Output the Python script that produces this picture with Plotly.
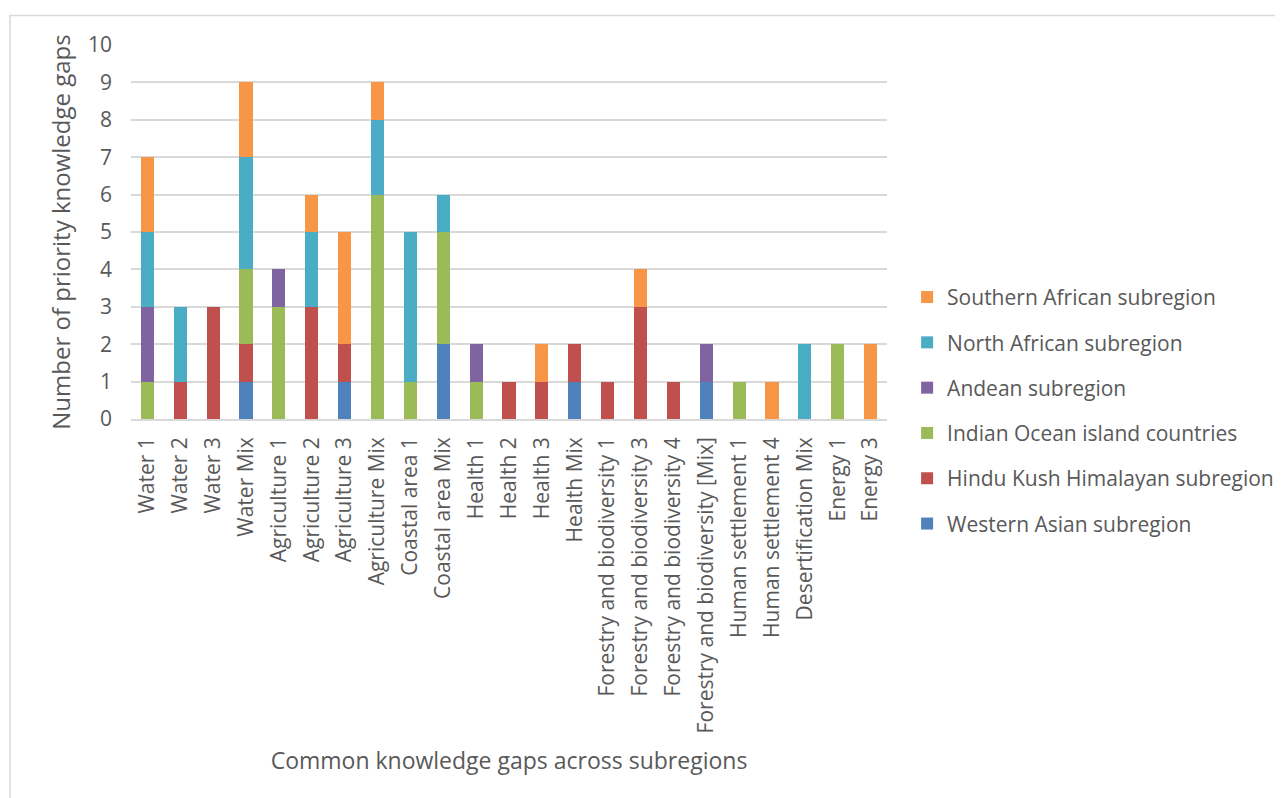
import plotly.graph_objects as go

categories = ["Water 1", "Water 2", "Water 3", "Water Mix", "Agriculture 1", "Agriculture 2",
              "Agriculture 3", "Agriculture Mix", "Coastal area 1", "Coastal area Mix",
              "Health 1", "Health 2", "Health 3", "Health Mix",
              "Forestry and biodiversity 1", "Forestry and biodiversity 3",
              "Forestry and biodiversity 4", "Forestry and biodiversity [Mix]",
              "Human settlement 1", "Human settlement 4", "Desertification Mix",
              "Energy 1", "Energy 3"]

western_asian = [0, 0, 0, 1, 0, 0, 1, 0, 0, 2, 0, 0, 0, 1, 0, 0, 0, 1, 0, 0, 0, 0, 0]
hindu_kush    = [0, 1, 3, 1, 0, 3, 1, 0, 0, 0, 0, 1, 1, 1, 1, 3, 1, 0, 0, 0, 0, 0, 0]
indian_ocean  = [1, 0, 0, 2, 3, 0, 0, 6, 1, 3, 1, 0, 0, 0, 0, 0, 0, 0, 1, 0, 0, 2, 0]
andean        = [2, 0, 0, 0, 1, 0, 0, 0, 0, 0, 1, 0, 0, 0, 0, 0, 0, 1, 0, 0, 0, 0, 0]
north_african = [2, 2, 0, 3, 0, 2, 0, 2, 4, 1, 0, 0, 0, 0, 0, 0, 0, 0, 0, 0, 2, 0, 0]
southern_afr  = [2, 0, 0, 2, 0, 1, 3, 1, 0, 0, 0, 0, 1, 0, 0, 1, 0, 0, 0, 1, 0, 0, 2]

series = [
    ("Western Asian subregion", western_asian, "#4F81BD"),
    ("Hindu Kush Himalayan subregion", hindu_kush, "#C0504D"),
    ("Indian Ocean island countries", indian_ocean, "#9BBB59"),
    ("Andean subregion", andean, "#8064A2"),
    ("North African subregion", north_african, "#4BACC6"),
    ("Southern African subregion", southern_afr, "#F79646"),
]

FONT = "Open Sans"
GRAY = "#595959"

fig = go.Figure()
n = len(series)
for i, (name, vals, col) in enumerate(series):
    fig.add_trace(go.Bar(
        x=categories, y=vals, name=name, legendgroup=name,
        legendrank=n - i,
        marker=dict(color=col, line=dict(width=0)),
    ))

fig.update_layout(
    barmode="stack",
    bargap=0.6,
    width=1275, height=790,
    margin=dict(l=123, r=396, t=37, b=379, autoexpand=False),
    paper_bgcolor="white", plot_bgcolor="white",
    font=dict(family=FONT, color=GRAY, size=21),
    showlegend=True,
    legend=dict(
        traceorder="grouped", tracegroupgap=15,
        x=1.0266, xanchor="left", y=0.023, yanchor="middle",
        font=dict(family=FONT, size=21, color=GRAY),
        itemwidth=30,
    ),
    xaxis=dict(
        tickangle=-90, tickfont=dict(size=21, color=GRAY),
        showgrid=False, showline=True, linecolor="#d9d9d9", linewidth=1.5,
        ticks="", ticklabelstandoff=8,
        title=dict(text="Common knowledge gaps across subregions",
                   font=dict(size=23, color=GRAY), standoff=20),
        automargin=False,
    ),
    yaxis=dict(
        range=[0, 10], dtick=1, tickfont=dict(size=21, color=GRAY),
        showgrid=True, gridcolor="#d9d9d9", gridwidth=1.5,
        zeroline=False, ticks="", ticklabelstandoff=18,
        title=dict(text="Number of priority knowledge gaps",
                   font=dict(size=24, color=GRAY), standoff=10),
        automargin=False,
    ),
    shapes=[dict(type="rect", xref="paper", yref="paper",
                 x0=-121/756, x1=1.6, y0=-1.2, y1=(411 - 7.5) / 374,
                 line=dict(color="#d9d9d9", width=1.5), fillcolor="rgba(0,0,0,0)", layer="below")],
)

fig.write_html("out.html")
